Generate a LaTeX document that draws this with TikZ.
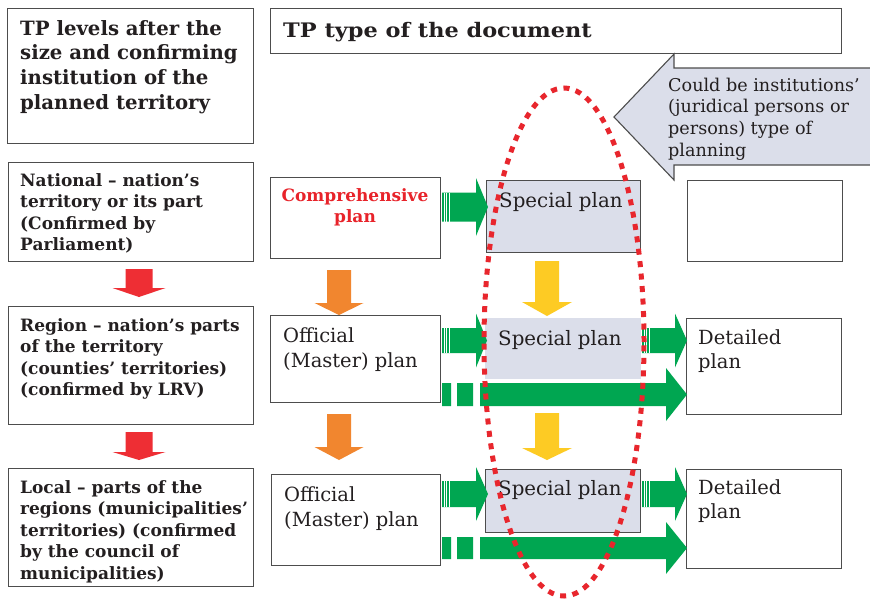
\documentclass[tikz,border=0pt]{standalone}
\usepackage{fontspec}
\setmainfont{DejaVu Serif}
\newfontfamily\hdrfont[FakeStretch=1.12]{DejaVu Serif}
\definecolor{boxgray}{HTML}{4D4D4D}
\definecolor{lightfill}{HTML}{DBDEEA}
\definecolor{arrgreen}{HTML}{00A651}
\definecolor{arrorange}{HTML}{F1862F}
\definecolor{arryellow}{HTML}{FDCB24}
\definecolor{arrred}{HTML}{EE2E34}
\definecolor{redtxt}{HTML}{E8232A}
\definecolor{dotred}{HTML}{E8262D}
\definecolor{txtc}{HTML}{231F20}
\newcommand\hArr[7]{\fill[#1] (#2,{#5-#6}) -- (#3,{#5-#6}) -- (#3,{#5-#7}) -- (#4,#5) -- (#3,{#5+#7}) -- (#3,{#5+#6}) -- (#2,{#5+#6}) -- cycle;}
\newcommand\vArr[7]{\fill[#1] ({#2-#6},#3) -- ({#2+#6},#3) -- ({#2+#6},#4) -- ({#2+#7},#4) -- (#2,#5) -- ({#2-#7},#4) -- ({#2-#6},#4) -- cycle;}
\newcommand\stripes[3]{\draw[white,line width=0.5pt] ({#1+2},{#2}) -- ({#1+2},{#3}) ({#1+4.5},{#2}) -- ({#1+4.5},{#3}) ({#1+7},{#2}) -- ({#1+7},{#3});}
\begin{document}
\begin{tikzpicture}[x=1pt,y=-1pt,
  box/.style={draw=boxgray,line width=1.1pt,inner sep=0pt,anchor=north west},
  fbox/.style={box,fill=lightfill},
  nbox/.style={fill=lightfill,inner sep=0pt,anchor=north west},
  txt/.style={inner sep=0pt,anchor=base west,text=txtc},
  boldL/.style={font=\bfseries\fontsize{17}{21.6}\selectfont},
]
\useasboundingbox (0,0) rectangle (870,598);
\fill[white] (0,0) rectangle (870,598);

% left column boxes
\node[box,minimum width=246pt,minimum height=135pt] (hl) at (7,8) {};
\node[box,minimum width=245pt,minimum height=99pt] (nat) at (8,162) {};
\node[box,minimum width=245pt,minimum height=118pt] (reg) at (8,306) {};
\node[box,minimum width=245pt,minimum height=118pt] (loc) at (8,468) {};

% second column
\node[box,minimum width=571pt,minimum height=45pt] (hr) at (270,8) {};
\node[box,minimum width=170pt,minimum height=81pt] (comp) at (270,177) {};
\node[box,minimum width=170pt,minimum height=87pt] (off1) at (270,315) {};
\node[box,minimum width=169pt,minimum height=91pt] (off2) at (271,474) {};

% special plans
\node[fbox,minimum width=154pt,minimum height=72pt] (sp1) at (486,180) {};
\node[nbox,minimum width=156pt,minimum height=61pt] (sp2) at (485,318) {};
\node[fbox,minimum width=155pt,minimum height=63pt] (sp3) at (485,469) {};

% right column
\node[box,minimum width=155pt,minimum height=81pt] (emp) at (687,180) {};
\node[box,minimum width=155pt,minimum height=96pt] (det2) at (686,318) {};
\node[box,minimum width=155pt,minimum height=99pt] (det3) at (686,469) {};

% callout
\filldraw[fill=lightfill,draw=boxgray,line width=1.1pt] (614,117) -- (674,54) -- (674,68) -- (873,68) -- (873,165) -- (674,165) -- (674,180) -- cycle;

% texts
\node[txt] (hlt) at (20,35) {\parbox[t]{240pt}{\raggedright\bfseries\fontsize{19.7}{24.8}\selectfont TP levels after the\\size and confirming\\institution of the\\planned territory}};
\node[txt] (hrt) at (283,37) {\hdrfont\bfseries\fontsize{20}{25}\selectfont TP type of the document};
\node[txt,boldL] (natt) at (20,186) {\parbox[t]{240pt}{\raggedright National -- nation’s\\territory or its part\\(Confirmed by\\Parliament)}};
\node[txt,boldL] (regt) at (20,331) {\parbox[t]{240pt}{\raggedright Region -- nation’s parts\\of the territory\\(counties’ territories)\\(confirmed by LRV)}};
\node[txt,boldL] (loct) at (20,493) {\parbox[t]{240pt}{\raggedright Local -- parts of the\\regions (municipalities’\\territories) (confirmed\\by the council of\\municipalities)}};
\node[inner sep=0pt,anchor=base,text=redtxt,boldL] (compt) at (355,201) {\parbox[t]{165pt}{\centering Comprehensive\\plan}};
\node[txt] (off1t) at (283,342) {\parbox[t]{160pt}{\raggedright\fontsize{19.5}{25}\selectfont Official\\(Master) plan}};
\node[txt] (off2t) at (284,501) {\parbox[t]{160pt}{\raggedright\fontsize{19.5}{25}\selectfont Official\\(Master) plan}};
\node[txt] (sp1t) at (499,207) {\fontsize{19.8}{25}\selectfont Special plan};
\node[txt] (sp2t) at (498,345) {\fontsize{19.8}{25}\selectfont Special plan};
\node[txt] (sp3t) at (498,495) {\fontsize{19.8}{25}\selectfont Special plan};
\node[txt] (det2t) at (698,344) {\parbox[t]{140pt}{\raggedright\fontsize{19.5}{24.5}\selectfont Detailed\\plan}};
\node[txt] (det3t) at (698,494) {\parbox[t]{140pt}{\raggedright\fontsize{19.5}{24.5}\selectfont Detailed\\plan}};
\node[txt] (callt) at (668,91) {\parbox[t]{200pt}{\raggedright\fontsize{17.6}{21.7}\selectfont Could be institutions’\\(juridical persons or\\persons) type of\\planning}};

% vertical arrows
\vArr{arrred}{139}{269}{288}{297}{13.5}{26.5}
\vArr{arrred}{139}{432}{452}{460}{13.5}{26.5}
\vArr{arrorange}{339}{270}{303}{315}{12}{24.5}
\vArr{arrorange}{339}{414}{447}{460}{12}{24.5}
\vArr{arryellow}{547}{261}{302}{316}{12}{25}
\vArr{arryellow}{547}{413}{448}{460}{12}{25}

% green arrows
\hArr{arrgreen}{442}{476}{488}{207}{14.5}{29}
\stripes{442}{192.5}{221.5}
\hArr{arrgreen}{442}{476}{487}{340.5}{12.5}{27}
\stripes{442}{328}{353}
\hArr{arrgreen}{642}{675}{687}{340.5}{12.5}{27}
\stripes{642}{328}{353}
\hArr{arrgreen}{480}{666}{687}{394.5}{11.5}{26.5}
\fill[arrgreen] (442,383) rectangle (451,406) (457,383) rectangle (473,406);
\hArr{arrgreen}{442}{476}{488}{494}{13}{27}
\stripes{442}{481}{507}
\hArr{arrgreen}{642}{675}{687}{494}{13}{27}
\stripes{642}{481}{507}
\hArr{arrgreen}{480}{666}{687}{548}{11}{26}
\fill[arrgreen] (442,537) rectangle (451,559) (457,537) rectangle (473,559);

% dotted ellipse
\draw[dotred,line width=5pt,dash pattern=on 6pt off 6.5pt] (564,342) ellipse [x radius=80pt, y radius=254pt];
\end{tikzpicture}
\end{document}
